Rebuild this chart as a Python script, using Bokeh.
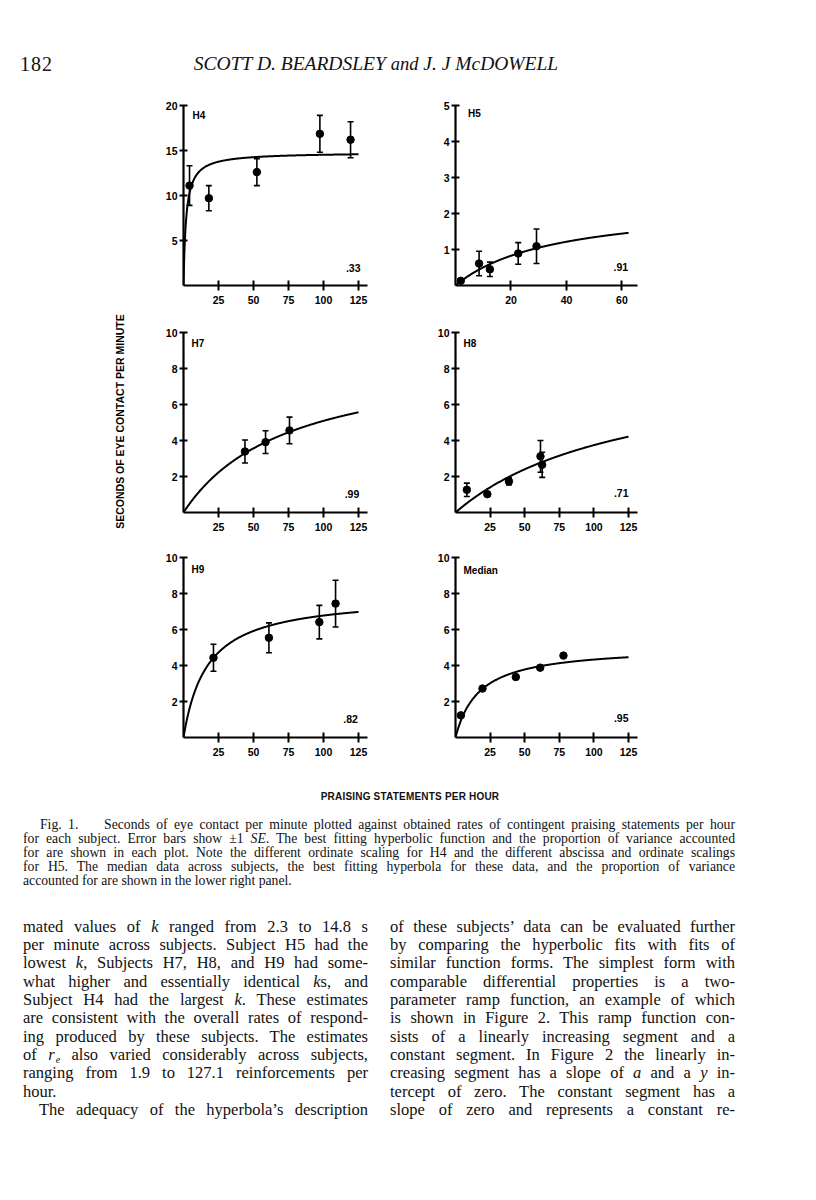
import numpy as np
from bokeh.plotting import figure
from bokeh.models import Range1d, FixedTicker, Label, Whisker, TeeHead, ColumnDataSource, Div
from bokeh.layouts import column, row
from bokeh.core.properties import value
from bokeh.embed import file_html
from bokeh.resources import INLINE

# ---------------- data ----------------
h4_x = [4.3, 18.1, 52.4, 97.4, 119.3]
h4_y = [11.1, 9.7, 12.6, 16.85, 16.2]
h4_se = [2.2, 1.4, 1.5, 2.05, 2.0]
h4_k, h4_re, h4_r2 = 14.8, 1.9, ".33"

h5_x = [1.9, 8.5, 12.4, 22.6, 29.2]
h5_y = [0.13, 0.61, 0.45, 0.89, 1.09]
h5_se = [0.0, 0.34, 0.2, 0.3, 0.48]
h5_k, h5_re, h5_r2 = 2.3, 35.7, ".91"

h7_x = [43.9, 58.6, 75.7]
h7_y = [3.39, 3.91, 4.56]
h7_se = [0.64, 0.63, 0.74]
h7_k, h7_re, h7_r2 = 8.91, 75.0, ".99"

h8_x = [8.2, 23.0, 38.6, 61.4, 62.6]
h8_y = [1.26, 1.02, 1.73, 3.12, 2.65]
h8_se = [0.37, 0.08, 0.2, 0.88, 0.7]
h8_k, h8_re, h8_r2 = 8.5, 127.1, ".71"

h9_x = [21.4, 61.0, 97.0, 108.6]
h9_y = [4.43, 5.54, 6.41, 7.44]
h9_se = [0.75, 0.83, 0.93, 1.3]
h9_k, h9_re, h9_r2 = 7.92, 16.9, ".82"

med_x = [3.9, 19.5, 43.6, 61.2, 78.0]
med_y = [1.23, 2.72, 3.36, 3.88, 4.55]
med_k, med_re, med_r2 = 5.07, 17.1, ".95"

x_ticks_125 = [25, 50, 75, 100, 125]
x_ticks_60 = [20, 40, 60]
y_ticks_20 = [5, 10, 15, 20]
y_ticks_10 = [2, 4, 6, 8, 10]
y_ticks_5 = [1, 2, 3, 4, 5]

y_title = "SECONDS OF EYE CONTACT PER MINUTE"
x_title = "PRAISING STATEMENTS PER HOUR"

SANS = "Liberation Sans"
SERIF = "Liberation Serif"


def panel(name, xs, ys, ses, k, re, r2, curve_end, x_end, y_end, xticks, yticks,
          side, top_border, bottom_border, name_pos, r2_pos, height=225):
    if side == "left":
        w, bl, br = 260, 43, 33
    else:
        w, bl, br = 260, 55, 23
    p = figure(width=w, height=height, x_range=Range1d(0, x_end), y_range=Range1d(0, y_end),
               output_backend="svg", toolbar_location=None,
               min_border_left=bl, min_border_right=br,
               min_border_top=top_border, min_border_bottom=bottom_border)
    p.outline_line_color = None
    p.xgrid.visible = False
    p.ygrid.visible = False
    p.background_fill_color = "white"
    p.border_fill_color = "white"
    for ax in (p.xaxis[0], p.yaxis[0]):
        ax.axis_line_width = 2.2
        ax.axis_line_color = "black"
        ax.major_tick_line_width = 2
        ax.major_tick_line_color = "black"
        ax.minor_tick_line_color = None
        ax.major_label_text_font = SANS
        ax.major_label_text_font_style = "bold"
        ax.major_label_text_font_size = "10.5px"
        ax.major_label_text_color = "black"
    p.xaxis[0].ticker = FixedTicker(ticks=xticks)
    p.yaxis[0].ticker = FixedTicker(ticks=yticks)
    p.xaxis[0].major_tick_in = 5
    p.xaxis[0].major_tick_out = 5
    p.xaxis[0].major_label_standoff = 5
    p.yaxis[0].major_tick_in = 4
    p.yaxis[0].major_tick_out = 4
    p.yaxis[0].major_label_standoff = 2

    cx = np.linspace(0, curve_end, 400)
    cy = k * cx / (cx + re)
    p.line(cx, cy, line_color="black", line_width=2)

    if ses is not None:
        src = ColumnDataSource(dict(x=xs, lower=[a - b for a, b in zip(ys, ses)],
                                    upper=[a + b for a, b in zip(ys, ses)]))
        wk = Whisker(source=src, base="x", lower="lower", upper="upper",
                     line_color="black", line_width=1.6,
                     upper_head=TeeHead(size=6, line_width=1.6, line_color="black"),
                     lower_head=TeeHead(size=6, line_width=1.6, line_color="black"))
        p.add_layout(wk)
    p.scatter(xs, ys, size=7.5, color="black")

    p.add_layout(Label(x=name_pos[0], y=name_pos[1], text=name, text_font=SANS,
                       text_font_style="bold", text_font_size="10px", text_baseline="middle",
                       text_align="left", text_color="black"))
    p.add_layout(Label(x=r2_pos[0], y=r2_pos[1], text=r2, text_font=SANS,
                       text_font_style="bold", text_font_size="10.5px", text_baseline="middle",
                       text_align="right", text_color="black"))
    return p


p_h4 = panel("H4", h4_x, h4_y, h4_se, h4_k, h4_re, h4_r2, 125, 131.4, 20, x_ticks_125, y_ticks_20,
             "left", 15, 30, (6.5, 18.9), (126.4, 1.9))
p_h5 = panel("H5", h5_x, h5_y, h5_se, h5_k, h5_re, h5_r2, 62.4, 65.6, 5, x_ticks_60, y_ticks_5,
             "right", 15, 30, (4.5, 4.77), (62.2, 0.52))
p_h7 = panel("H7", h7_x, h7_y, h7_se, h7_k, h7_re, h7_r2, 125, 131.4, 10, x_ticks_125, y_ticks_10,
             "left", 17, 28, (5.7, 9.39), (125.5, 1.05))
p_h8 = panel("H8", h8_x, h8_y, h8_se, h8_k, h8_re, h8_r2, 125, 131.5, 10, x_ticks_125, y_ticks_10,
             "right", 17, 28, (5.8, 9.39), (125.0, 1.1))
p_h9 = panel("H9", h9_x, h9_y, h9_se, h9_k, h9_re, h9_r2, 125, 131.4, 10, x_ticks_125, y_ticks_10,
             "left", 17, 28, (5.7, 9.33), (124.5, 1.05))
p_med = panel("Median", med_x, med_y, None, med_k, med_re, med_r2, 125, 131.5, 10, x_ticks_125, y_ticks_10,
              "right", 17, 28, (5.8, 9.3), (125.0, 1.1))

# y title column
p_yl = figure(width=132, height=675, x_range=Range1d(0, 132), y_range=Range1d(0, 675),
              output_backend="svg", toolbar_location=None, min_border=0)
p_yl.axis.visible = False
p_yl.grid.visible = False
p_yl.outline_line_color = None
p_yl.text(x=[111], y=[344], text=[y_title], angle=np.pi / 2, text_align="center",
          text_baseline="middle", text_font=value(SANS), text_font_style="bold",
          text_font_size="10.5px", text_color="black")

grid = column(row(p_h4, p_h5, spacing=0), row(p_h7, p_h8, spacing=0), row(p_h9, p_med, spacing=0), spacing=0)
panels = row(p_yl, grid, spacing=0)

# ---------------- page text ----------------
header_html = (
    '<div style="position:relative;width:800px;height:82px;font-family:\'Liberation Serif\';color:#111;">'
    '<div style="position:absolute;left:12px;top:45px;line-height:22px;font-size:20px;letter-spacing:1px;">182</div>'
    '<div style="position:absolute;left:118px;top:45px;width:500px;text-align:center;line-height:22px;'
    'font-size:19.5px;font-style:italic;">SCOTT D. BEARDSLEY <span style="font-size:18.5px">and</span> J. J McDOWELL</div>'
    '</div>')
header = Div(text=header_html, width=800, height=82, margin=0)

xlab_html = (
    '<div style="position:relative;width:800px;height:40px;">'
    '<div style="position:absolute;left:252px;top:25px;width:300px;text-align:center;line-height:14px;'
    'font-family:\'Liberation Sans\';font-weight:bold;font-size:10px;letter-spacing:0.2px;color:#111;">'
    + x_title + '</div></div>')
xlab = Div(text=xlab_html, width=800, height=40, margin=0)

cap_lines = [
    'Fig. 1.&nbsp;&nbsp;&nbsp; Seconds of eye contact per minute plotted against obtained rates of contingent praising statements per hour',
    'for each subject. Error bars show &plusmn;1 <i>SE</i>. The best fitting hyperbolic function and the proportion of variance accounted',
    'for are shown in each plot. Note the different ordinate scaling for H4 and the different abscissa and ordinate scalings',
    'for H5. The median data across subjects, the best fitting hyperbola for these data, and the proportion of variance',
    'accounted for are shown in the lower right panel.',
]


def line_div(txt, left, top, width, h, fs, justify=True, indent=0):
    al = "justify" if justify else "left"
    return ('<div style="position:absolute;left:%gpx;top:%gpx;width:%gpx;height:%gpx;line-height:%gpx;'
            'font-size:%gpx;white-space:nowrap;text-align:%s;text-align-last:%s;padding-left:%gpx;'
            'box-sizing:border-box;">%s</div>' % (left, top, width, h, h, fs, al, al, indent, txt))


cap_inner = ""
for i, t in enumerate(cap_lines):
    cap_inner += line_div(t, 15, 20 + 14 * i - 7, 712, 14, 13.7,
                          justify=(i < len(cap_lines) - 1), indent=(17 if i == 0 else 0))
caption = Div(text='<div style="position:relative;width:800px;height:90px;font-family:\'Liberation Serif\';color:#111;">'
              + cap_inner + '</div>', width=800, height=90, margin=0)

left_lines = [
    'mated values of <i>k</i> ranged from 2.3 to 14.8 s',
    'per minute across subjects. Subject H5 had the',
    'lowest <i>k</i>, Subjects H7, H8, and H9 had some-',
    'what higher and essentially identical <i>k</i>s, and',
    'Subject H4 had the largest <i>k</i>. These estimates',
    'are consistent with the overall rates of respond-',
    'ing produced by these subjects. The estimates',
    'of <i>r</i><i style="font-size:10px;position:relative;top:3px;margin-left:1px;">e</i> also varied considerably across subjects,',
    'ranging from 1.9 to 127.1 reinforcements per',
    'hour.',
    'The adequacy of the hyperbola&rsquo;s description',
]
right_lines = [
    'of these subjects&rsquo; data can be evaluated further',
    'by comparing the hyperbolic fits with fits of',
    'similar function forms. The simplest form with',
    'comparable differential properties is a two-',
    'parameter ramp function, an example of which',
    'is shown in Figure 2. This ramp function con-',
    'sists of a linearly increasing segment and a',
    'constant segment. In Figure 2 the linearly in-',
    'creasing segment has a slope of <i>a</i> and a <i>y</i> in-',
    'tercept of zero. The constant segment has a',
    'slope of zero and represents a constant re-',
]
body_inner = ""
LH = 18.33
for i, t in enumerate(left_lines):
    body_inner += line_div(t, 15, 32 + LH * i - LH / 2, 345, LH, 16.5,
                           justify=(i != 9), indent=(16 if i == 10 else 0))
for i, t in enumerate(right_lines):
    body_inner += line_div(t, 382, 32 + LH * i - LH / 2, 345, LH, 16.5, justify=True)
body = Div(text='<div style="position:relative;width:800px;height:230px;font-family:\'Liberation Serif\';color:#111;">'
           + body_inner + '</div>', width=800, height=230, margin=0)

page = column(header, panels, xlab, caption, body, spacing=0, margin=(8, 0, 0, 8))

open("out.html", "w").write(file_html(page, INLINE))
